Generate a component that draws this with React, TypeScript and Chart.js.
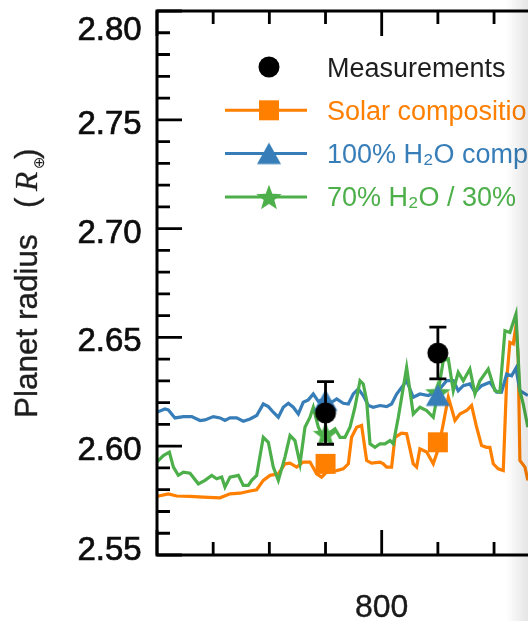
import React, { useEffect, useRef } from 'react';
import { Chart, registerables } from 'chart.js';

Chart.register(...registerables);

// ---------- data ----------
const solarWavelength = [599.7, 610.1, 617.5, 629.4, 641.2, 656.1, 665.0, 673.9, 682.8, 688.7, 694.6, 700.6, 708.0, 713.9, 718.4, 724.3, 730.2, 736.2, 742.1, 746.5, 751.0, 759.9, 765.8, 770.3, 773.2, 777.7, 782.1, 786.6, 791.0, 798.5, 801.4, 804.4, 808.8, 811.8, 817.7, 822.2, 828.1, 831.1, 834.0, 840.0, 845.9, 850.4, 854.8, 859.3, 865.2, 869.6, 875.6, 880.0, 884.5, 888.9, 893.3, 896.3, 899.3, 903.7, 908.2, 911.2, 914.1, 917.1, 919.5, 921.5, 923.0, 927.5, 930.1];
const solarRadius = [2.5769, 2.5781, 2.5771, 2.5769, 2.5766, 2.5763, 2.5781, 2.5784, 2.5794, 2.5800, 2.5843, 2.5866, 2.5873, 2.5919, 2.5922, 2.5904, 2.5927, 2.5927, 2.5873, 2.5858, 2.5881, 2.5888, 2.5896, 2.5919, 2.6041, 2.6087, 2.6095, 2.5934, 2.5922, 2.5927, 2.5919, 2.5904, 2.5904, 2.6041, 2.6060, 2.6057, 2.5919, 2.5904, 2.5988, 2.5973, 2.5919, 2.5988, 2.6103, 2.6225, 2.6118, 2.6148, 2.6164, 2.6187, 2.6087, 2.6003, 2.5995, 2.5995, 2.5919, 2.5896, 2.5888, 2.6301, 2.6477, 2.6470, 2.6554, 2.6408, 2.5934, 2.5904, 2.5843];

const waterWavelength = [599.7, 607.1, 610.1, 616.0, 623.5, 630.9, 638.3, 642.7, 650.2, 656.1, 660.5, 665.0, 670.9, 676.8, 682.8, 688.7, 694.6, 699.1, 703.5, 708.0, 712.4, 716.9, 721.3, 725.8, 730.2, 734.7, 739.1, 743.6, 749.5, 755.4, 759.9, 765.8, 770.3, 774.7, 779.2, 783.6, 788.1, 792.5, 798.5, 804.4, 808.8, 813.3, 822.2, 828.1, 834.0, 841.5, 850.4, 857.8, 863.7, 868.1, 872.6, 878.5, 883.0, 888.9, 896.3, 902.3, 906.7, 911.2, 915.6, 919.5, 923.0, 930.1];
const waterRadius = [2.6156, 2.6171, 2.6167, 2.6130, 2.6136, 2.6136, 2.6118, 2.6121, 2.6136, 2.6130, 2.6118, 2.6130, 2.6130, 2.6115, 2.6125, 2.6141, 2.6194, 2.6182, 2.6156, 2.6133, 2.6179, 2.6197, 2.6179, 2.6148, 2.6202, 2.6213, 2.6240, 2.6206, 2.6217, 2.6202, 2.6217, 2.6197, 2.6194, 2.6240, 2.6263, 2.6233, 2.6187, 2.6179, 2.6187, 2.6182, 2.6194, 2.6240, 2.6301, 2.6225, 2.6240, 2.6233, 2.6255, 2.6301, 2.6301, 2.6255, 2.6278, 2.6286, 2.6248, 2.6278, 2.6294, 2.6248, 2.6248, 2.6332, 2.6324, 2.6359, 2.6255, 2.6233];

const mixWavelength = [599.7, 605.7, 611.0, 614.6, 619.0, 623.5, 629.4, 636.8, 642.7, 648.7, 653.1, 657.6, 660.5, 665.0, 672.4, 676.8, 681.3, 684.3, 688.7, 694.6, 699.1, 703.5, 708.0, 713.9, 718.4, 722.8, 727.3, 731.7, 736.2, 739.1, 743.6, 748.0, 752.5, 758.4, 762.9, 767.3, 771.8, 776.2, 780.7, 783.6, 786.6, 789.6, 794.0, 798.5, 802.9, 807.4, 810.3, 814.8, 822.2, 828.1, 834.0, 840.0, 845.9, 850.4, 854.8, 859.3, 863.7, 868.1, 872.6, 878.5, 883.0, 887.4, 894.8, 900.8, 905.2, 909.7, 914.1, 919.5, 923.0, 926.0, 930.1];
const mixRadius = [2.5927, 2.5957, 2.5973, 2.5904, 2.5866, 2.5881, 2.5876, 2.5827, 2.5843, 2.5866, 2.5850, 2.5858, 2.5812, 2.5858, 2.5866, 2.5820, 2.5820, 2.5843, 2.5866, 2.6041, 2.6018, 2.5904, 2.5843, 2.5950, 2.6049, 2.6026, 2.5919, 2.6087, 2.6133, 2.6179, 2.6087, 2.6041, 2.6057, 2.6080, 2.6041, 2.6041, 2.6087, 2.6179, 2.6301, 2.6286, 2.6210, 2.6011, 2.5995, 2.6011, 2.6011, 2.6026, 2.6011, 2.6133, 2.6362, 2.6148, 2.6179, 2.6164, 2.6133, 2.6255, 2.6393, 2.6401, 2.6255, 2.6340, 2.6301, 2.6355, 2.6240, 2.6301, 2.6355, 2.6255, 2.6248, 2.6531, 2.6523, 2.6607, 2.6255, 2.6194, 2.6087];

const bandWavelength = [750, 850];
const measuredRadius = [2.6153, 2.6428];
const measuredError = [0.0144, 0.0119];
const solarBandRadius = [2.5919, 2.6018];
const waterBandRadius = [2.6210, 2.6233];
const mixBandRadius = [2.6057, 2.6248];

const yTickLabels = [2.55, 2.6, 2.65, 2.7, 2.75, 2.8];
const xTickLabels = [800];
const legendLabels = ['Measurements', 'Solar composition', '100% H\u2082O composition', '70% H\u2082O / 30%'];
const yTitle = 'Planet radius';

// ---------- styling ----------
const BLACK = '#000000';
const ORANGE = '#ff7f00';
const BLUE = '#377eb8';
const GREEN = '#4daf4a';
const SANS = '"Liberation Sans", Arial, Helvetica, sans-serif';

function makeMarker(kind: string, color: string): HTMLCanvasElement {
  const c = document.createElement('canvas');
  c.width = 30;
  c.height = 30;
  const g = c.getContext('2d')!;
  g.fillStyle = color;
  g.beginPath();
  if (kind === 'circle') {
    g.arc(15, 15, 10.5, 0, Math.PI * 2);
  } else if (kind === 'square') {
    g.rect(5, 5, 20, 20);
  } else if (kind === 'triangle') {
    g.moveTo(15, 4);
    g.lineTo(27, 25.5);
    g.lineTo(3, 25.5);
    g.closePath();
  } else {
    const R = 13.5;
    const r = 5.6;
    const cy = 15 + 1.3;
    for (let i = 0; i < 10; i++) {
      const ang = -Math.PI / 2 + (i * Math.PI) / 5;
      const rad = i % 2 === 0 ? R : r;
      const px = 15 + Math.cos(ang) * rad;
      const py = cy + Math.sin(ang) * rad;
      if (i === 0) g.moveTo(px, py);
      else g.lineTo(px, py);
    }
    g.closePath();
  }
  g.fill();
  return c;
}

function pairs(xs: number[], ys: number[]) {
  return xs.map((x, i) => ({ x, y: ys[i] }));
}

function heavyText(ctx: CanvasRenderingContext2D, text: string, x: number, y: number, w: number) {
  ctx.fillText(text, x, y);
  ctx.lineWidth = w;
  ctx.strokeStyle = ctx.fillStyle as string;
  ctx.strokeText(text, x, y);
}

export default function App() {
  const ref = useRef<HTMLCanvasElement>(null);

  useEffect(() => {
    const canvas = ref.current!;
    const mCircle = makeMarker('circle', BLACK);
    const mSquare = makeMarker('square', ORANGE);
    const mTriangle = makeMarker('triangle', BLUE);
    const mStar = makeMarker('star', GREEN);

    const decor = {
      id: 'decor',
      afterDatasetsDraw(chart: any) {
        const { ctx, scales } = chart;
        const x = scales.x;
        const y = scales.y;
        ctx.save();
        ctx.strokeStyle = BLACK;
        ctx.lineWidth = 2.8;
        bandWavelength.forEach((wl, i) => {
          const px = x.getPixelForValue(wl);
          const top = y.getPixelForValue(measuredRadius[i] + measuredError[i]);
          const bot = y.getPixelForValue(measuredRadius[i] - measuredError[i]);
          ctx.beginPath();
          ctx.moveTo(px, top);
          ctx.lineTo(px, bot);
          ctx.moveTo(px - 8.5, top);
          ctx.lineTo(px + 8.5, top);
          ctx.moveTo(px - 8.5, bot);
          ctx.lineTo(px + 8.5, bot);
          ctx.stroke();
        });
        ctx.restore();
      },
      afterDraw(chart: any) {
        const { ctx, chartArea: a, scales } = chart;
        const x = scales.x;
        const y = scales.y;
        ctx.save();
        // frame
        ctx.strokeStyle = BLACK;
        ctx.lineWidth = 3;
        ctx.strokeRect(a.left, a.top, a.right - a.left, a.bottom - a.top);
        // ticks (inward)
        ctx.lineWidth = 2.8;
        ctx.beginPath();
        for (let k = 0; k <= 8; k++) {
          const v = 600 + k * 50;
          const px = x.getPixelForValue(v);
          const len = k % 4 === 0 ? 25 : 13;
          ctx.moveTo(px, a.bottom);
          ctx.lineTo(px, a.bottom - len);
          ctx.moveTo(px, a.top);
          ctx.lineTo(px, a.top + len);
        }
        for (let k = 0; k <= 25; k++) {
          const v = 2.55 + k * 0.01;
          const py = y.getPixelForValue(v);
          const len = k % 5 === 0 ? 25 : 13;
          ctx.moveTo(a.left, py);
          ctx.lineTo(a.left + len, py);
          ctx.moveTo(a.right, py);
          ctx.lineTo(a.right - len, py);
        }
        ctx.stroke();

        // y tick labels
        ctx.fillStyle = '#0d0d0d';
        ctx.font = `33px ${SANS}`;
        ctx.textAlign = 'right';
        ctx.textBaseline = 'alphabetic';
        yTickLabels.forEach((v) => {
          const py = y.getPixelForValue(v);
          const center = Math.min(Math.max(py + 2, a.top + 17), a.bottom - 7);
          heavyText(ctx, v.toFixed(2), a.left - 15.3, center + 12, 0.7);
        });
        // x tick labels
        ctx.textAlign = 'center';
        ctx.font = `32px ${SANS}`;
        ctx.fillStyle = '#1a1a1a';
        xTickLabels.forEach((v) => {
          heavyText(ctx, String(v), x.getPixelForValue(v), a.bottom + 62, 0.4);
        });

        // y title (rotated)
        ctx.save();
        ctx.translate(37, 418);
        ctx.rotate(-Math.PI / 2);
        ctx.fillStyle = '#1e1e1e';
        ctx.textAlign = 'left';
        ctx.textBaseline = 'alphabetic';
        ctx.font = `31.5px ${SANS}`;
        heavyText(ctx, yTitle, 0, 0, 0.4);
        heavyText(ctx, '(', 210, 0, 0.3);
        ctx.font = 'italic 31.5px "Liberation Serif", "Times New Roman", serif';
        heavyText(ctx, 'R', 227, 0, 0.3);
        ctx.font = '15px "DejaVu Sans", sans-serif';
        ctx.fillText('\u2295', 249, 7);
        ctx.font = `31.5px ${SANS}`;
        heavyText(ctx, ')', 259, 0, 0.3);
        ctx.restore();

        // legend
        const rows = [
          { label: legendLabels[0], color: BLACK, text: '#1e1e1e', marker: mCircle, line: false },
          { label: legendLabels[1], color: ORANGE, text: ORANGE, marker: mSquare, line: true },
          { label: legendLabels[2], color: BLUE, text: BLUE, marker: mTriangle, line: true },
          { label: legendLabels[3], color: GREEN, text: GREEN, marker: mStar, line: true },
        ];
        ctx.font = `27px ${SANS}`;
        ctx.textAlign = 'left';
        rows.forEach((r, i) => {
          const cy = a.top + 56 + i * 43.3;
          if (r.line) {
            ctx.strokeStyle = r.color;
            ctx.lineWidth = 3;
            ctx.beginPath();
            ctx.moveTo(a.left + 68, cy);
            ctx.lineTo(a.left + 150, cy);
            ctx.stroke();
          }
          ctx.drawImage(r.marker, a.left + 112 - r.marker.width / 2, cy - r.marker.height / 2);
          ctx.fillStyle = r.text;
          ctx.fillText(r.label, a.left + 170, cy + 9.5);
        });
        ctx.restore();
      },
    };

    const lineDs = (label: string, xs: number[], ys: number[], color: string, order: number) => ({
      label,
      data: pairs(xs, ys),
      showLine: true,
      borderColor: color,
      backgroundColor: color,
      borderWidth: 3.2,
      pointRadius: 0,
      pointHoverRadius: 0,
      tension: 0,
      order,
    });
    const markerDs = (label: string, ys: number[], img: HTMLCanvasElement, order: number) => ({
      label,
      data: pairs(bandWavelength, ys),
      showLine: false,
      pointStyle: img,
      pointRadius: 10,
      pointHoverRadius: 10,
      order,
    });

    const chart = new Chart(canvas, {
      type: 'scatter',
      data: {
        datasets: [
          markerDs('Measurements', measuredRadius, mCircle, 0),
          markerDs('Solar composition bands', solarBandRadius, mSquare, 1),
          markerDs('100% H2O bands', waterBandRadius, mTriangle, 2),
          markerDs('70% H2O bands', mixBandRadius, mStar, 3),
          lineDs('70% H2O / 30%', mixWavelength, mixRadius, GREEN, 4),
          lineDs('100% H2O composition', waterWavelength, waterRadius, BLUE, 5),
          lineDs('Solar composition', solarWavelength, solarRadius, ORANGE, 6),
        ] as any,
      },
      options: {
        animation: false,
        responsive: false,
        maintainAspectRatio: false,
        devicePixelRatio: 1,
        layout: { padding: { left: 157, top: 10, right: 13.6, bottom: 66 } },
        scales: {
          x: { type: 'linear', min: 600, max: 1000, display: false },
          y: { type: 'linear', min: 2.55, max: 2.8, display: false },
        },
        plugins: {
          legend: { display: false },
          tooltip: { enabled: false },
        },
        events: [],
      } as any,
      plugins: [decor],
    });
    return () => chart.destroy();
  }, []);

  return (
    <div
      style={{
        position: 'fixed',
        left: 0,
        top: 0,
        width: 528,
        height: 621,
        overflow: 'hidden',
        background: '#ffffff',
      }}
    >
      <canvas ref={ref} width={620} height={621} style={{ display: 'block', width: 620, height: 621 }} />
      <div
        style={{
          position: 'absolute',
          left: 506,
          top: 0,
          width: 22,
          height: 621,
          background: 'linear-gradient(to right, rgba(0,0,0,0), rgba(0,0,0,0.1))',
          pointerEvents: 'none',
        }}
      />
    </div>
  );
}
